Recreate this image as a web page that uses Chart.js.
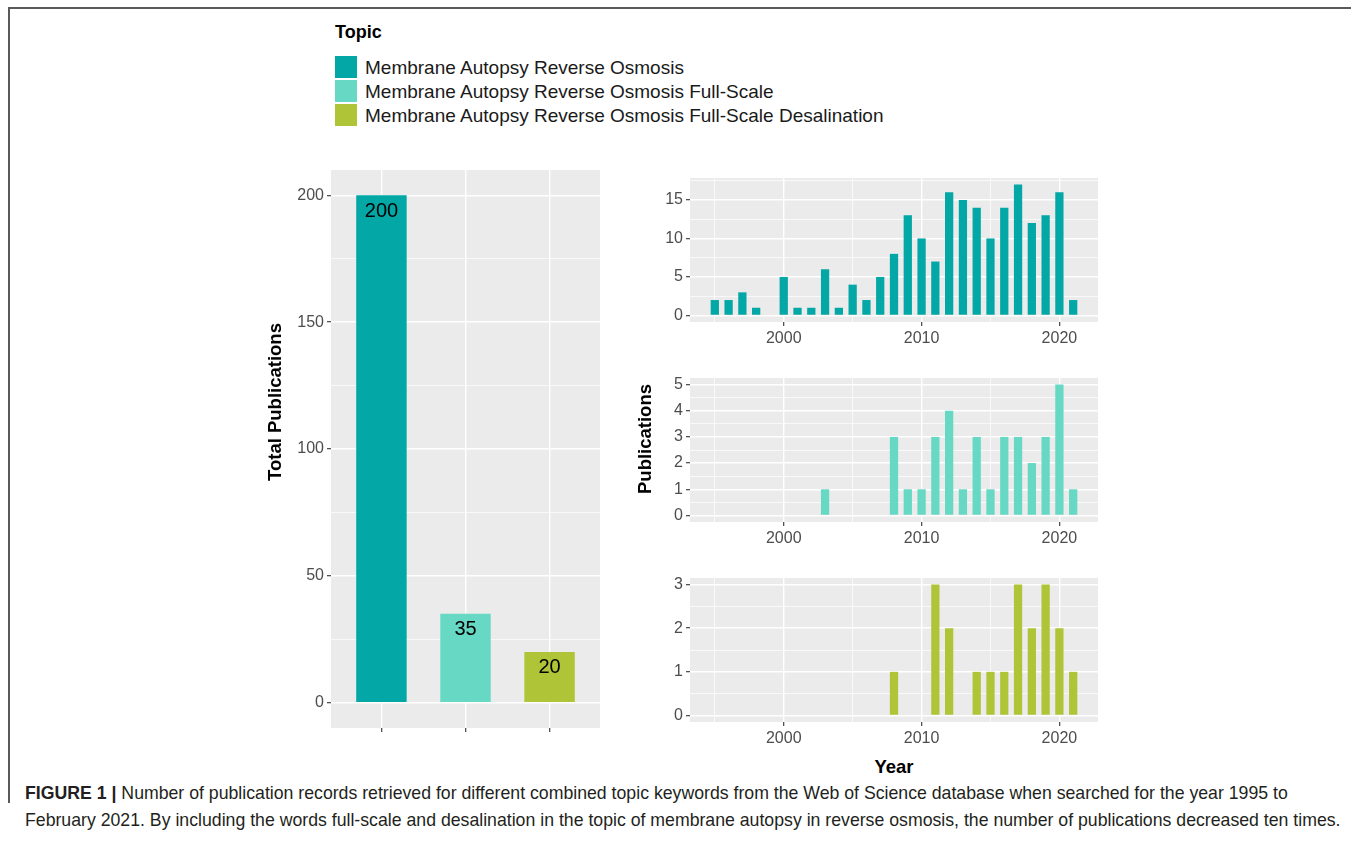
<!DOCTYPE html>
<html>
<head>
<meta charset="utf-8">
<script src="https://cdn.jsdelivr.net/npm/chart.js@4.4.1/dist/chart.umd.min.js"></script>
<style>
  body { margin: 0; width: 1355px; height: 862px; background: #fff; position: relative; overflow: hidden;
         font-family: "Liberation Sans", Arial, sans-serif; color: #000; }
  .abs { position: absolute; white-space: nowrap; }
  .frame-top { left: 9px; top: 7px; width: 1342px; height: 2px; background: #5a5a5a; }
  .frame-left { left: 8px; top: 7px; width: 2px; height: 796px; background: #5a5a5a; }
  .legend-title { left: 335px; top: 22px; font-size: 18px; font-weight: bold; }
  .key { left: 335px; width: 22px; height: 22px; }
  .key-label { left: 365px; font-size: 19px; line-height: 22px; color: #1a1a1a; }
  .vtitle { font-size: 18.5px; font-weight: bold; transform: translate(-50%, -50%) rotate(-90deg); }
  .htitle { font-size: 18.5px; font-weight: bold; transform: translate(-50%, -50%); }
  .caption { left: 25px; font-size: 17.7px; color: #231F20; }
  canvas { position: absolute; }
</style>
</head>
<body>
<div class="abs frame-top"></div>
<div class="abs frame-left"></div>

<div class="abs legend-title">Topic</div>
<div id="legend"></div>

<canvas id="totalChart" width="355" height="600" style="left:255px; top:160px;"></canvas>
<canvas id="roChart" width="490" height="182" style="left:620px; top:170px;"></canvas>
<canvas id="fullChart" width="490" height="182" style="left:620px; top:370px;"></canvas>
<canvas id="desalChart" width="490" height="182" style="left:620px; top:570px;"></canvas>

<div class="abs vtitle" style="left:275px; top:402px;">Total Publications</div>
<div class="abs vtitle" style="left:645px; top:439px;">Publications</div>
<div class="abs htitle" style="left:894px; top:767px;">Year</div>

<div class="abs caption" style="top:783px;"><b>FIGURE 1 |</b> Number of publication records retrieved for different combined topic keywords from the Web of Science database when searched for the year 1995 to</div>
<div class="abs caption" style="top:810px;">February 2021. By including the words full-scale and desalination in the topic of membrane autopsy in reverse osmosis, the number of publications decreased ten times.</div>

<script>
// topics and totals (left panel)
const topics = [
  'Membrane Autopsy Reverse Osmosis',
  'Membrane Autopsy Reverse Osmosis Full-Scale',
  'Membrane Autopsy Reverse Osmosis Full-Scale Desalination'
];
const topicColors = ['#02A7A6', '#66D8C3', '#AFC537'];
const totals = [200, 35, 20];

// publications per year (right panels)
const years = [1995, 1996, 1997, 1998, 1999, 2000, 2001, 2002, 2003, 2004, 2005, 2006, 2007, 2008,
               2009, 2010, 2011, 2012, 2013, 2014, 2015, 2016, 2017, 2018, 2019, 2020, 2021];
const countsRO =        [2, 2, 3, 1, 0, 5, 1, 1, 6, 1, 4, 2, 5, 8, 13, 10, 7, 16, 15, 14, 10, 14, 17, 12, 13, 16, 2];
const countsFullScale = [0, 0, 0, 0, 0, 0, 0, 0, 1, 0, 0, 0, 0, 3, 1, 1, 3, 4, 1, 3, 1, 3, 3, 2, 3, 5, 1];
const countsDesal =     [0, 0, 0, 0, 0, 0, 0, 0, 0, 0, 0, 0, 0, 1, 0, 0, 3, 2, 0, 1, 1, 1, 3, 2, 3, 2, 1];

// tick labels
const totalMajorTicks = [0, 50, 100, 150, 200];
const totalMinorTicks = [25, 75, 125, 175];
const yearMajorTicks = [2000, 2010, 2020];
const yearMinorTicks = [1995, 2005, 2015];
const roMajorTicks = [0, 5, 10, 15];
const roMinorTicks = [2.5, 7.5, 12.5, 17.5];
const fullMajorTicks = [0, 1, 2, 3, 4, 5];
const fullMinorTicks = [0.5, 1.5, 2.5, 3.5, 4.5];
const desalMajorTicks = [0, 1, 2, 3];
const desalMinorTicks = [0.5, 1.5, 2.5];

Chart.defaults.font.family = '"Liberation Sans", Arial, sans-serif';
Chart.defaults.font.size = 16;
Chart.defaults.color = '#4D4D4D';

// legend keys
const legend = document.getElementById('legend');
topics.forEach((t, i) => {
  const top = 56 + i * 24;
  legend.insertAdjacentHTML('beforeend',
    `<div class="abs key" style="top:${top}px; background:${topicColors[i]}"></div>` +
    `<div class="abs key-label" style="top:${top + 1}px">${t}</div>`);
});

const panelBg = {
  id: 'panelBg',
  beforeDraw(chart) {
    const { ctx, chartArea: a } = chart;
    ctx.save();
    ctx.fillStyle = '#EBEBEB';
    ctx.fillRect(a.left, a.top, a.right - a.left, a.bottom - a.top);
    ctx.restore();
  }
};

const barLabels = {
  id: 'barLabels',
  afterDatasetsDraw(chart) {
    const ctx = chart.ctx;
    const meta = chart.getDatasetMeta(0);
    ctx.save();
    ctx.font = '20px "Liberation Sans", Arial, sans-serif';
    ctx.fillStyle = '#000';
    ctx.textAlign = 'center';
    ctx.textBaseline = 'middle';
    meta.data.forEach((bar, i) => {
      ctx.fillText(String(totals[i]), bar.x, bar.y + 16);
    });
    ctx.restore();
  }
};

// ggplot-like axis: white major + thinner minor grid, ticks only on majors
function ggAxis(min, max, majors, minors, fixSize, showLabels) {
  const all = majors.concat(minors).sort((a, b) => a - b);
  const isMajor = (c) => c.tick && majors.includes(c.tick.value);
  return {
    type: 'linear',
    min: min,
    max: max,
    offset: false,
    border: { display: false },
    afterBuildTicks: (s) => { s.ticks = all.map(v => ({ value: v })); },
    afterFit: fixSize,
    grid: {
      offset: false,
      color: '#FFFFFF',
      lineWidth: (c) => isMajor(c) ? 1.4 : 0.7,
      tickColor: (c) => isMajor(c) ? '#333333' : 'rgba(0,0,0,0)',
      tickWidth: 1.1,
      tickLength: 4
    },
    ticks: {
      padding: 3,
      autoSkip: false,
      maxRotation: 0,
      callback: (v) => (showLabels && majors.includes(v)) ? String(v) : ''
    }
  };
}

new Chart(document.getElementById('totalChart'), {
  type: 'bar',
  data: {
    datasets: [{
      data: totals.map((v, i) => ({ x: i + 1, y: v })),
      backgroundColor: topicColors,
      borderWidth: 0,
      barPercentage: 0.6,
      categoryPercentage: 1
    }]
  },
  options: {
    responsive: false,
    animation: false,
    layout: { padding: { top: 10, right: 10, left: 0, bottom: 0 } },
    plugins: { legend: { display: false }, tooltip: { enabled: false } },
    scales: {
      x: ggAxis(0.4, 3.6, [1, 2, 3], [], (s) => { s.height = 32; s.paddingLeft = 0; s.paddingRight = 0; }, false),
      y: ggAxis(-10, 210, totalMajorTicks, totalMinorTicks, (s) => { s.width = 76; s.paddingTop = 0; s.paddingBottom = 0; }, true)
    }
  },
  plugins: [panelBg, barLabels]
});

function makeYearChart(id, counts, color, yMin, yMax, yMajor, yMinor) {
  new Chart(document.getElementById(id), {
    type: 'bar',
    data: {
      datasets: [{
        data: years.map((yr, i) => ({ x: yr, y: counts[i] })),
        backgroundColor: color,
        borderWidth: 0,
        barPercentage: 0.6,
        categoryPercentage: 1
      }]
    },
    options: {
      responsive: false,
      animation: false,
      layout: { padding: { top: 8, right: 12, left: 0, bottom: 0 } },
      plugins: { legend: { display: false }, tooltip: { enabled: false } },
      scales: {
        x: ggAxis(1993.2, 2022.8, yearMajorTicks, yearMinorTicks, (s) => { s.height = 30; s.paddingLeft = 0; s.paddingRight = 0; }, true),
        y: ggAxis(yMin, yMax, yMajor, yMinor, (s) => { s.width = 70; s.paddingTop = 0; s.paddingBottom = 0; }, true)
      }
    },
    plugins: [panelBg]
  });
}

makeYearChart('roChart', countsRO, topicColors[0], -0.85, 17.85, roMajorTicks, roMinorTicks);
makeYearChart('fullChart', countsFullScale, topicColors[1], -0.25, 5.25, fullMajorTicks, fullMinorTicks);
makeYearChart('desalChart', countsDesal, topicColors[2], -0.15, 3.15, desalMajorTicks, desalMinorTicks);
</script>
</body>
</html>
